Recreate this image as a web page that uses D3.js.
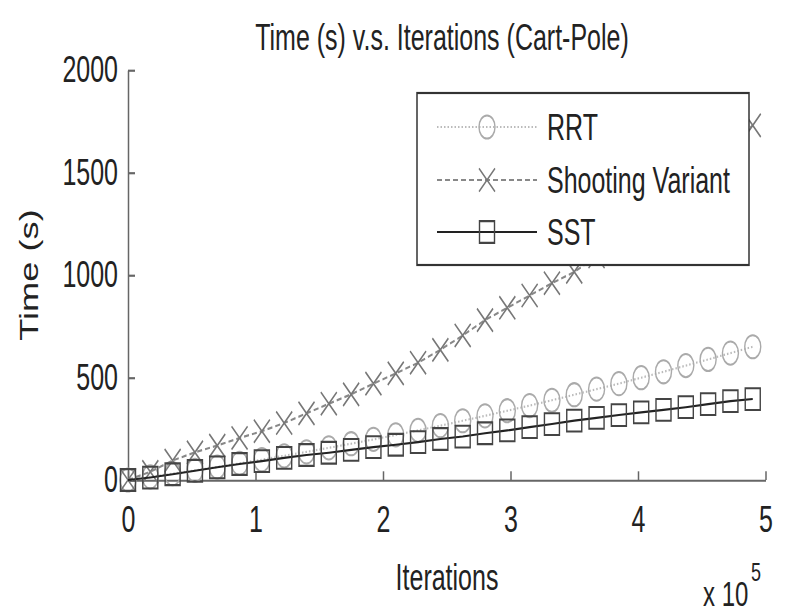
<!DOCTYPE html>
<html>
<head>
<meta charset="utf-8">
<script src="https://cdn.jsdelivr.net/npm/d3@7"></script>
<style>
  body { margin: 0; background: #fff; }
</style>
</head>
<body>
<script>
// data (iterations, time in seconds)
var iterations = [0, 17500, 35000, 52500, 70000, 87500, 105000, 122500, 140000, 157500,
  175000, 192500, 210000, 227500, 245000, 262500, 280000, 297500, 315000, 332500,
  350000, 367500, 385000, 402500, 420000, 437500, 455000, 472500, 490000];
var rrt = [0, 15, 31, 47, 63, 81, 99, 118, 137, 157, 177, 198, 220, 242, 265, 289,
  313, 338, 363, 389, 416, 443, 470, 499, 528, 558, 588, 619, 650];
var shooting = [0, 40, 95, 135, 168, 205, 238, 278, 325, 372, 418, 470, 520, 572, 635,
  705, 780, 840, 900, 960, 1015, 1090, 1170, 1250, 1340, 1430, 1530, 1630, 1730];
var sst = [0, 12, 28, 45, 62, 78, 92, 108, 122, 133, 147, 160, 172, 185, 200, 212, 228,
  242, 258, 273, 290, 303, 317, 330, 342, 355, 370, 385, 395];
var seriesNames = ['RRT', 'Shooting Variant', 'SST'];
var xTicks = [0, 100000, 200000, 300000, 400000, 500000];
var yTicks = [0, 500, 1000, 1500, 2000];

var S = 1.45; // the whole figure is stretched vertically
var W = 786, H = 613;
function py(p) { return p / S; }

var svg = d3.select('body').append('svg')
  .attr('width', W)
  .attr('height', H);

var root = svg.append('g')
  .attr('transform', 'scale(1,' + S + ')')
  .attr('font-family', '"Liberation Sans", Arial, sans-serif')
  .attr('fill', '#222');

var x = d3.scaleLinear().domain([0, 500000]).range([128, 765.5]);
var y = d3.scaleLinear().domain([0, 2000]).range([py(480), py(70)]);

// axes
var gx = root.append('g')
  .attr('transform', 'translate(0,' + py(480) + ')')
  .call(d3.axisBottom(x).tickValues(xTicks).tickFormat(function (d) { return d / 1e5; })
    .tickSize(-6).tickSizeOuter(0).tickPadding(18));
var gy = root.append('g')
  .attr('transform', 'translate(128,0)')
  .call(d3.axisLeft(y).tickValues(yTicks).tickFormat(d3.format('d'))
    .tickSize(-7).tickSizeOuter(0).tickPadding(10));

[gx, gy].forEach(function (g) {
  g.attr('font-size', 25).attr('font-family', '"Liberation Sans", Arial, sans-serif');
  g.selectAll('path, line').attr('stroke', '#666').attr('stroke-width', 1.5);
  g.selectAll('text').attr('fill', '#222');
});

// series styles
var styles = [
  { values: rrt, line: '#bbb', mark: '#aaa', dash: '1.5,2', shape: 'circle' },
  { values: shooting, line: '#888', mark: '#777', dash: '5,3', shape: 'cross' },
  { values: sst, line: '#222', mark: '#444', dash: null, shape: 'square' }
];

function marker(sel, shape, color) {
  if (shape === 'circle') {
    sel.append('circle').attr('r', 8);
  } else if (shape === 'cross') {
    sel.append('path').attr('d', 'M-8,-8L8,8M-8,8L8,-8');
  } else {
    sel.append('path').attr('d', 'M-7.5,-7.5h15v15h-15z');
  }
  sel.selectAll('circle, path')
    .attr('fill', 'none')
    .attr('stroke', color)
    .attr('stroke-width', 1.4);
}

var line = d3.line()
  .x(function (d, i) { return x(iterations[i]); })
  .y(function (d) { return y(d); });

styles.forEach(function (s) {
  root.append('path')
    .datum(s.values)
    .attr('d', line)
    .attr('fill', 'none')
    .attr('stroke', s.line)
    .attr('stroke-width', 1.5)
    .attr('stroke-dasharray', s.dash);
  root.append('g').selectAll('g')
    .data(s.values)
    .join('g')
    .attr('transform', function (d, i) { return 'translate(' + x(iterations[i]) + ',' + y(d) + ')'; })
    .each(function () { marker(d3.select(this), s.shape, s.mark); });
});

// legend
var legend = root.append('g');
legend.append('rect')
  .attr('x', 417).attr('y', py(93))
  .attr('width', 332).attr('height', py(265) - py(93))
  .attr('fill', '#fff')
  .attr('stroke', '#333')
  .attr('stroke-width', 1.5);

var rows = [127, 180, 232];
styles.forEach(function (s, i) {
  var ry = py(rows[i]);
  legend.append('line')
    .attr('x1', 437).attr('x2', 537)
    .attr('y1', ry).attr('y2', ry)
    .attr('stroke', s.line)
    .attr('stroke-width', 1.5)
    .attr('stroke-dasharray', s.dash);
  var m = legend.append('g').attr('transform', 'translate(487,' + ry + ')');
  marker(m, s.shape, s.mark);
  legend.append('text')
    .attr('x', 547).attr('y', ry + 9)
    .attr('font-size', 25)
    .text(seriesNames[i]);
});

// titles
root.append('text')
  .attr('x', 442).attr('y', py(50))
  .attr('text-anchor', 'middle')
  .attr('font-size', 25)
  .text('Time (s) v.s. Iterations (Cart-Pole)');

root.append('text')
  .attr('x', 447).attr('y', py(590))
  .attr('text-anchor', 'middle')
  .attr('font-size', 25)
  .text('Iterations');

root.append('text')
  .attr('transform', 'translate(38,' + py(275) + ') rotate(-90)')
  .attr('text-anchor', 'middle')
  .attr('font-size', 25)
  .text('Time (s)');

root.append('text')
  .attr('x', 703).attr('y', py(606))
  .attr('font-size', 24)
  .text('x 10');
root.append('text')
  .attr('x', 751).attr('y', py(581))
  .attr('font-size', 18)
  .text('5');
</script>
</body>
</html>
